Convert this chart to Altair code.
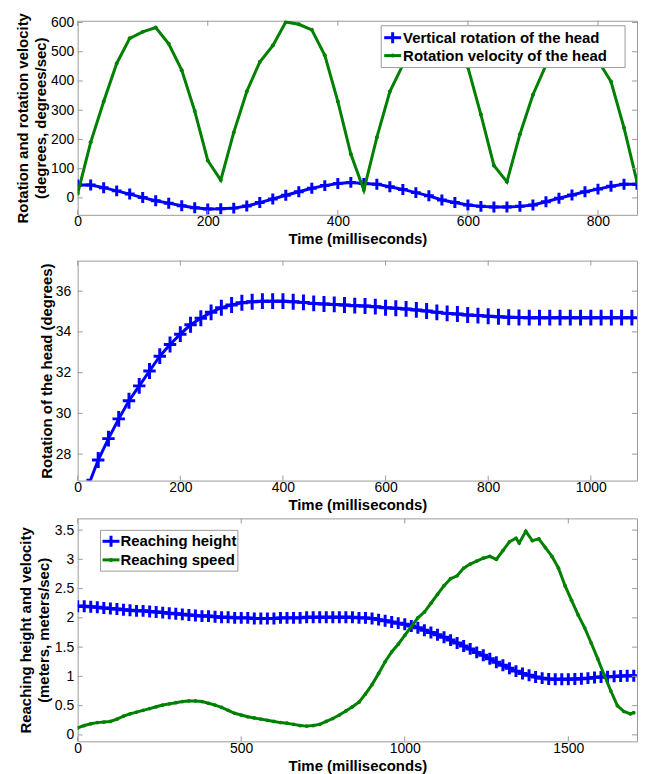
import altair as alt
import pandas as pd

# ---------------- data ----------------
# Panel 1: head rotation (deg) and rotation velocity (deg/s), every 20 ms
p1_time = list(range(0, 861, 20))
p1_vertical_rotation = [44, 44, 35, 24, 13, 1, -10, -18, -27, -34,
                        -38, -37, -35, -28, -16, -4, 9, 21, 33, 42,
                        49, 53, 49, 47, 38, 29, 18, 7, -7, -16,
                        -24, -29, -31, -31, -29, -24, -13, -1, 10, 21,
                        30, 40, 47, 47]
p1_rotation_velocity = [15, 190, 330, 460, 546, 568, 583, 527, 437, 297,
                        128, 61, 224, 364, 465, 521, 602, 594, 575, 488,
                        330, 150, 27, 207, 364, 455, 530, 572, 580, 530,
                        447, 285, 111, 55, 218, 353, 454, 530, 572, 560,
                        470, 398, 240, 55]
p1_xticks = [0, 200, 400, 600, 800]
p1_yticks = [0, 100, 200, 300, 400, 500, 600]

# Panel 2: rotation of the head (deg), every 20 ms
p2_time = list(range(20, 1081, 20))
p2_rotation = [26.40, 27.71, 28.76, 29.73, 30.62, 31.35, 32.08, 32.81, 33.38, 33.89,
               34.35, 34.67, 34.96, 35.19, 35.32, 35.43, 35.48, 35.51, 35.51, 35.51,
               35.48, 35.45, 35.40, 35.37, 35.35, 35.32, 35.29, 35.27, 35.24, 35.19,
               35.16, 35.13, 35.08, 35.03, 34.96, 34.91, 34.88, 34.83, 34.80, 34.77,
               34.74, 34.72, 34.71, 34.70, 34.70, 34.70, 34.70, 34.70, 34.70, 34.70,
               34.70, 34.70, 34.70, 34.70]
p2_xticks = [0, 200, 400, 600, 800, 1000]
p2_yticks = [28, 30, 32, 34, 36]

# Panel 3: reaching height (m) every 20 ms, reaching speed (m/s)
p3_height_time = list(range(0, 1701, 20))
p3_height = [2.20, 2.20, 2.19, 2.18, 2.17, 2.16, 2.15, 2.14, 2.13, 2.12,
             2.12, 2.11, 2.10, 2.09, 2.08, 2.07, 2.06, 2.05, 2.04, 2.03,
             2.03, 2.02, 2.01, 2.01, 2.00, 2.00, 2.00, 1.99, 1.99, 1.99,
             1.99, 2.00, 2.00, 2.00, 2.00, 2.01, 2.01, 2.01, 2.01, 2.01,
             2.01, 2.01, 2.01, 2.00, 2.00, 1.99, 1.97, 1.95, 1.93, 1.91,
             1.89, 1.86, 1.83, 1.79, 1.75, 1.71, 1.67, 1.62, 1.57, 1.52,
             1.47, 1.41, 1.36, 1.30, 1.24, 1.19, 1.14, 1.09, 1.05, 1.02,
             0.99, 0.97, 0.955, 0.95, 0.95, 0.95, 0.955, 0.96, 0.97, 0.98,
             0.99, 0.995, 1.00, 1.005, 1.01, 1.01]
p3_speed_time = [0, 20, 40, 60, 80, 100, 120, 140, 160, 180,
                 200, 220, 240, 260, 280, 300, 320, 340, 360, 380,
                 400, 420, 440, 460, 480, 500, 520, 540, 560, 580,
                 600, 620, 640, 660, 680, 700, 720, 740, 760, 780,
                 800, 820, 840, 860, 880, 900, 920, 940, 960, 980,
                 1000, 1020, 1040, 1060, 1080, 1100, 1120, 1140, 1160, 1180,
                 1200, 1220, 1240, 1260, 1280, 1300, 1320, 1340, 1350, 1370,
                 1390, 1410, 1430, 1450, 1470, 1490, 1510, 1530, 1550, 1570,
                 1590, 1610, 1630, 1650, 1670, 1690, 1700]
p3_speed = [0.12, 0.16, 0.19, 0.21, 0.22, 0.23, 0.27, 0.32, 0.36, 0.39,
            0.42, 0.45, 0.48, 0.51, 0.53, 0.55, 0.57, 0.58, 0.58, 0.57,
            0.54, 0.51, 0.47, 0.42, 0.37, 0.34, 0.31, 0.29, 0.27, 0.25,
            0.23, 0.21, 0.20, 0.18, 0.16, 0.15, 0.16, 0.18, 0.23, 0.28,
            0.34, 0.41, 0.48, 0.56, 0.70, 0.86, 1.05, 1.25, 1.42, 1.55,
            1.70, 1.85, 2.00, 2.10, 2.25, 2.40, 2.55, 2.67, 2.72, 2.85,
            2.92, 2.97, 3.02, 3.05, 3.00, 3.15, 3.30, 3.36, 3.28, 3.48,
            3.32, 3.35, 3.20, 3.05, 2.85, 2.55, 2.30, 2.05, 1.83, 1.57,
            1.30, 1.02, 0.75, 0.50, 0.40, 0.36, 0.38]
p3_xticks = [0, 500, 1000, 1500]
p3_yticks = [0, 0.5, 1, 1.5, 2, 2.5, 3, 3.5]

# ---------------- style ----------------
BLUE = "#0000ff"
GREEN = "#008000"
FRAME = "#9a9a9a"
FONT = "Liberation Sans"
W = 562
TICK = 5
ONE = pd.DataFrame({"k": [0]})


def plus_path(ratio):
    return f"M{-ratio},0H{ratio}M0,-1V1"


def xaxis(vals):
    return alt.Axis(values=vals, format="d", title="Time (milliseconds)", labelPadding=0,
                    titleY=17, titleBaseline="top")


def yaxis(vals, title, tx, fmt, lpad):
    return alt.Axis(values=vals, format=fmt, title=title, labelPadding=lpad, titleX=tx,
                    titleBaseline="middle", titleLineHeight=18)


class Panel:
    def __init__(self, xdom, ydom, xticks, yticks, ytitle, ytx, yfmt, lpad, H):
        self.xs = alt.Scale(domain=xdom, nice=False, zero=False)
        self.ys = alt.Scale(domain=ydom, nice=False, zero=False)
        self.xa = xaxis(xticks)
        self.ya = yaxis(yticks, ytitle, ytx, yfmt, lpad)
        self.xticks, self.yticks, self.H = xticks, yticks, H

    def X(self, f):
        return alt.X(f + ":Q", scale=self.xs, axis=self.xa)

    def Y(self, f):
        return alt.Y(f + ":Q", scale=self.ys, axis=self.ya)

    def ticks(self):
        xt = pd.DataFrame({"t": self.xticks})
        yt = pd.DataFrame({"v": self.yticks})
        st = dict(color=FRAME, strokeWidth=1)
        H = self.H
        return [
            alt.Chart(xt).mark_rule(**st).encode(x=self.X("t"), y=alt.value(0), y2=alt.value(TICK)),
            alt.Chart(xt).mark_rule(**st).encode(x=self.X("t"), y=alt.value(H - TICK), y2=alt.value(H)),
            alt.Chart(yt).mark_rule(**st).encode(y=self.Y("v"), x=alt.value(0), x2=alt.value(TICK)),
            alt.Chart(yt).mark_rule(**st).encode(y=self.Y("v"), x=alt.value(W - TICK), x2=alt.value(W)),
        ]


def legend(box, rows):
    x0, x1, y0, y1 = box
    layers = [alt.Chart(ONE).mark_rect(fill="white", stroke=FRAME, strokeWidth=1).encode(
        x=alt.value(x0), x2=alt.value(x1), y=alt.value(y0), y2=alt.value(y1))]
    for label, color, kind, sx0, sx1, ty, tx in rows:
        layers.append(alt.Chart(ONE).mark_rule(color=color, strokeWidth=3).encode(
            x=alt.value(sx0), x2=alt.value(sx1), y=alt.value(ty)))
        if kind == "plus":
            layers.append(alt.Chart(ONE).mark_point(shape=plus_path(0.05), size=121, filled=False,
                                                    color=color, strokeWidth=3, opacity=1).encode(
                x=alt.value((sx0 + sx1) / 2), y=alt.value(ty)))
        else:
            layers.append(alt.Chart(ONE).mark_circle(size=16, color=color, opacity=1).encode(
                x=alt.value((sx0 + sx1) / 2), y=alt.value(ty)))
        layers.append(alt.Chart(ONE).mark_text(align="left", baseline="middle", font=FONT, fontSize=15,
                                               fontWeight="bold", color="black").encode(
            x=alt.value(tx), y=alt.value(ty), text=alt.value(label)))
    return layers


def spacer(H, gap):
    return alt.Chart(ONE).mark_rule(opacity=0).encode(x=alt.value(0), y=alt.value(H), y2=alt.value(H + gap))


# ---------------- panel 1 ----------------
P1 = Panel([0, 860], [-58, 606], p1_xticks, p1_yticks,
           ["Rotation and  rotation velocity", "(degrees, degrees/sec)"], -55, "d", 4, 195)
d1a = pd.DataFrame({"t": p1_time, "v": p1_vertical_rotation})
d1b = pd.DataFrame({"t": p1_time, "v": p1_rotation_velocity})
e1 = dict(x=P1.X("t"), y=P1.Y("v"))
p1 = alt.layer(
    alt.Chart(d1a).mark_line(color=BLUE, strokeWidth=3, clip=True).encode(**e1),
    alt.Chart(d1a).mark_point(shape=plus_path(0.9), size=121, filled=False, color=BLUE, strokeWidth=3,
                              opacity=1, clip=True).encode(**e1),
    alt.Chart(d1b).mark_line(color=GREEN, strokeWidth=3, clip=True).encode(**e1),
    alt.Chart(d1b).mark_circle(size=16, color=GREEN, opacity=1, clip=True).encode(**e1),
    *P1.ticks(),
    *legend((305, 550, 5, 47), [
        ("Vertical rotation of the head", BLUE, "plus", 308, 325, 17, 327),
        ("Rotation velocity of the head", GREEN, "dot", 308, 325, 35, 327),
    ]),
    spacer(P1.H, 44),
).properties(width=W, height=P1.H)

# ---------------- panel 2 ----------------
P2 = Panel([0, 1090], [26.7, 37.5], p2_xticks, p2_yticks,
           "Rotation of the head (degrees)", -31, "d", 7, 221)
d2 = pd.DataFrame({"t": p2_time, "v": p2_rotation})
e2 = dict(x=P2.X("t"), y=P2.Y("v"))
p2 = alt.layer(
    alt.Chart(d2).mark_line(color=BLUE, strokeWidth=3, clip=True).encode(**e2),
    alt.Chart(d2).mark_point(shape=plus_path(0.78), size=256, filled=False, color=BLUE, strokeWidth=3,
                             opacity=1, clip=True).encode(**e2),
    *P2.ticks(),
    spacer(P2.H, 36),
).properties(width=W, height=P2.H)

# ---------------- panel 3 ----------------
P3 = Panel([0, 1710], [-0.11, 3.70], p3_xticks, p3_yticks,
           ["Reaching height and velocity", "(meters, meters/sec)"], -52, "~g", 4, 224)
d3a = pd.DataFrame({"t": p3_height_time, "v": p3_height})
d3b = pd.DataFrame({"t": p3_speed_time, "v": p3_speed})
e3 = dict(x=P3.X("t"), y=P3.Y("v"))
p3 = alt.layer(
    alt.Chart(d3a).mark_line(color=BLUE, strokeWidth=3, clip=True).encode(**e3),
    alt.Chart(d3a).mark_point(shape=plus_path(0.83), size=144, filled=False, color=BLUE, strokeWidth=3,
                              opacity=1, clip=True).encode(**e3),
    alt.Chart(d3b).mark_line(color=GREEN, strokeWidth=3, clip=True).encode(**e3),
    alt.Chart(d3b).mark_circle(size=14, color=GREEN, opacity=1, clip=True).encode(**e3),
    *P3.ticks(),
    *legend((23, 161, 12, 53), [
        ("Reaching height", BLUE, "plus", 25, 42, 23, 43),
        ("Reaching speed", GREEN, "dot", 25, 42, 41.7, 43),
    ]),
).properties(width=W, height=P3.H)

chart = alt.vconcat(p1, p2, p3, spacing=0).properties(
    padding={"left": 7, "top": 0, "right": 0, "bottom": 0}
).configure_view(stroke=FRAME, strokeWidth=1).configure_axis(
    labelFont=FONT, labelFontSize=14, labelColor="black", titleFont=FONT, titleFontSize=15,
    titleFontWeight="bold", titleColor="black", grid=False, domain=False, ticks=False,
    labelFlush=False, labelOverlap=False
)

chart.save("out.html", embed_options={"renderer": "svg", "actions": False})
